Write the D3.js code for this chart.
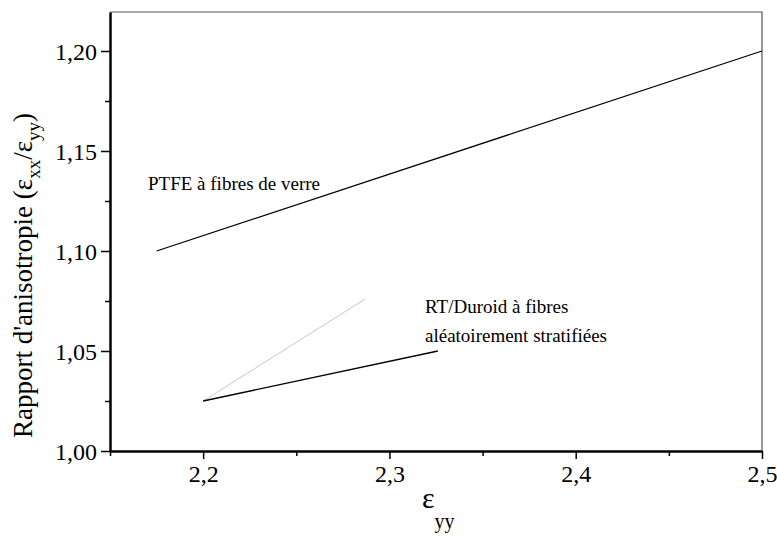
<!DOCTYPE html>
<html>
<head>
<meta charset="utf-8">
<script src="https://cdn.jsdelivr.net/npm/d3@7"></script>
</head>
<body style="margin:0">
<svg id="fig" width="777" height="536"></svg>
<script>
// data
const ptfeX = [2.175, 2.5];
const ptfeY = [1.10, 1.20];
const duroidX = [2.2, 2.326];
const duroidY = [1.025, 1.05];
const faintX = [2.2, 2.287];
const faintY = [1.025, 1.076];

const xMajor = [2.2, 2.3, 2.4, 2.5];
const xMinor = [2.15, 2.25, 2.35, 2.45];
const yMajor = [1.00, 1.05, 1.10, 1.15, 1.20];
const yMinor = [1.025, 1.075, 1.125, 1.175];

const W = 777;
const H = 536;
const margin = { left: 110, right: 15, top: 12, bottom: 85 };
const fam = '"Liberation Serif"';

const fig = d3.select('#fig');

const xScale = d3.scaleLinear()
  .domain([2.15, 2.5])
  .range([margin.left, W - margin.right]);

const yScale = d3.scaleLinear()
  .domain([1.00, 1.2195])
  .range([H - margin.bottom, margin.top]);

const loc = d3.formatLocale({ decimal: ',', thousands: ' ', grouping: [3], currency: ['', ''] });
const fx = loc.format('.1f');
const fy = loc.format('.2f');

// frame: thin top / right
fig.append('path')
  .attr('d', `M${xScale.range()[0]},${yScale.range()[1]}H${xScale.range()[1]}V${yScale.range()[0]}`)
  .attr('fill', 'none')
  .attr('stroke', '#555')
  .attr('stroke-width', 1.2);

// x axis
const xAxis = fig.append('g')
  .attr('transform', `translate(0,${yScale.range()[0]})`)
  .call(d3.axisBottom(xScale).tickValues(xMajor).tickFormat(fx).tickSize(8).tickSizeOuter(0));
xAxis.select('.domain').attr('stroke-width', 2.5);
xAxis.selectAll('.tick line').attr('stroke-width', 1.5);
xAxis.selectAll('.tick text')
  .style('font-family', fam)
  .attr('font-size', 24)
  .attr('dy', '0.85em')
  .attr('y', 11);

fig.append('g')
  .attr('transform', `translate(0,${yScale.range()[0]})`)
  .call(d3.axisBottom(xScale).tickValues(xMinor).tickFormat('').tickSize(5).tickSizeOuter(0))
  .call(g => g.select('.domain').remove())
  .selectAll('.tick line').attr('stroke-width', 1.5);

// y axis
const yAxis = fig.append('g')
  .attr('transform', `translate(${margin.left},0)`)
  .call(d3.axisLeft(yScale).tickValues(yMajor).tickFormat(fy).tickSize(9).tickSizeOuter(0));
yAxis.select('.domain').attr('stroke-width', 2.5);
yAxis.selectAll('.tick line').attr('stroke-width', 1.5);
yAxis.selectAll('.tick text')
  .style('font-family', fam)
  .attr('font-size', 24)
  .attr('x', -13)
  .attr('dy', '0.34em');

fig.append('g')
  .attr('transform', `translate(${margin.left},0)`)
  .call(d3.axisLeft(yScale).tickValues(yMinor).tickFormat('').tickSize(5).tickSizeOuter(0))
  .call(g => g.select('.domain').remove())
  .selectAll('.tick line').attr('stroke-width', 1.5);

// lines
const lineGen = d3.line().x(d => xScale(d[0])).y(d => yScale(d[1]));

fig.append('path')
  .datum(d3.zip(faintX, faintY))
  .attr('d', lineGen)
  .attr('fill', 'none')
  .attr('stroke', '#c8c8c8')
  .attr('stroke-width', 1);

fig.append('path')
  .datum(d3.zip(ptfeX, ptfeY))
  .attr('d', lineGen)
  .attr('fill', 'none')
  .attr('stroke', '#000')
  .attr('stroke-width', 1.3);

fig.append('path')
  .datum(d3.zip(duroidX, duroidY))
  .attr('d', lineGen)
  .attr('fill', 'none')
  .attr('stroke', '#000')
  .attr('stroke-width', 1.3);

// annotations
fig.append('text')
  .style('font-family', fam)
  .attr('font-size', 19)
  .attr('x', 148)
  .attr('y', 190)
  .text('PTFE à fibres de verre');

const ann = fig.append('text')
  .style('font-family', fam)
  .attr('font-size', 19)
  .attr('x', 425)
  .attr('y', 313);
ann.append('tspan').text('RT/Duroid à fibres');
ann.append('tspan').attr('x', 425).attr('dy', 29).text('aléatoirement stratifiées');

// axis titles
const xt = fig.append('text')
  .style('font-family', fam)
  .attr('font-size', 30)
  .attr('x', 422)
  .attr('y', 508);
xt.append('tspan').text('ε');
xt.append('tspan').attr('font-size', 20).attr('dy', 20).text('yy');

const yt = fig.append('text')
  .style('font-family', fam)
  .attr('font-size', 27)
  .attr('transform', `translate(32,${(yScale.range()[0] + yScale.range()[1]) / 2 + 44}) rotate(-90)`)
  .attr('text-anchor', 'middle');
yt.append('tspan').text("Rapport d'anisotropie (ε");
yt.append('tspan').attr('font-size', 19).attr('dy', 8).text('xx');
yt.append('tspan').attr('dy', -8).text('/ε');
yt.append('tspan').attr('font-size', 19).attr('dy', 8).text('yy');
yt.append('tspan').attr('dy', -8).text(')');
</script>
</body>
</html>
